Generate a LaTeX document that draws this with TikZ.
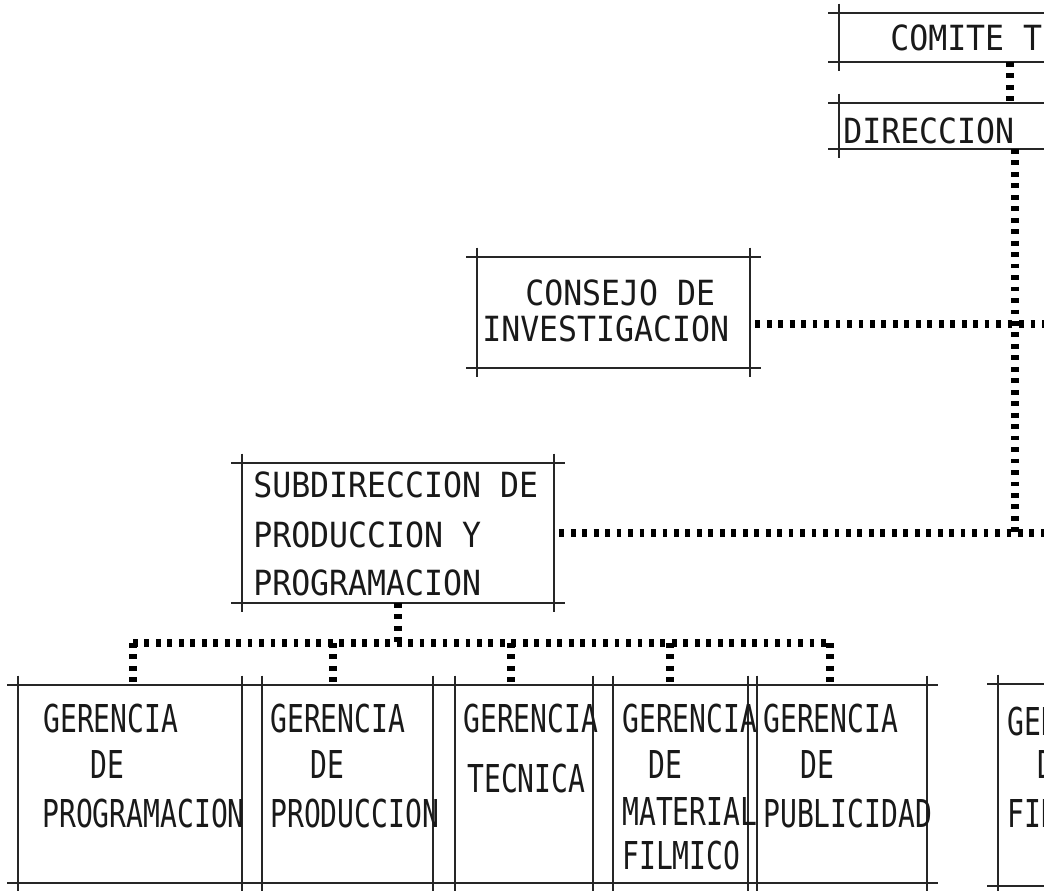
\documentclass[tikz,border=0pt]{standalone}
\usepackage{fontspec}
\newfontfamily\topfont[FakeStretch=0.91]{DejaVu Sans Mono}
\newfontfamily\lowfont[FakeStretch=0.73]{DejaVu Sans Mono}
\newcommand\mkbox[5]{%
  \node[boxnode, minimum width={(#4-#2)*0.75pt}, minimum height={(#5-#3)*0.75pt}] (#1) at ({(#2+#4)/2},{(#3+#5)/2}) {};
  \draw[frameline] ([xshift=-8pt]#1.north west) -- ([xshift=8pt]#1.north east);
  \draw[frameline] ([xshift=-8pt]#1.south west) -- ([xshift=8pt]#1.south east);
  \draw[frameline] ([yshift=7pt]#1.north west) -- ([yshift=-7pt]#1.south west);
  \draw[frameline] ([yshift=7pt]#1.north east) -- ([yshift=-7pt]#1.south east);
}
\newcommand\tl[5]{\node[#1] (#2) at (#3,#4) {#5};}
\begin{document}
\begin{tikzpicture}[x=0.75pt,y=-0.75pt,
  frameline/.style={line width=0.8pt, black!85},
  dots/.style={line width=5.5pt, dash pattern=on 3.6pt off 5pt, black},
  boxnode/.style={draw=none, inner sep=0pt, outer sep=0pt, rectangle},
  toptxt/.style={font=\topfont\fontsize{26}{26}\selectfont, inner sep=0pt, anchor=base west, text=black!90},
  lowtxt/.style={font=\lowfont\fontsize{28.8}{29}\selectfont, inner sep=0pt, anchor=base west, text=black!90}]
\useasboundingbox (0,0) rectangle (1044,890);
\clip (0,0) rectangle (1044,890);
\fill[white] (0,0) rectangle (1044,890);
% boxes
\mkbox{comite}{839}{13}{1150}{62}
\mkbox{direccion}{839}{103}{1150}{149}
\mkbox{consejo}{477}{257}{750}{368}
\mkbox{sub}{242}{463}{554}{603}
\mkbox{g1}{18}{685}{242}{883}
\mkbox{g2}{262}{685}{433}{883}
\mkbox{g3}{455}{685}{593}{883}
\mkbox{g4}{613}{685}{748}{883}
\mkbox{g5}{757}{685}{927}{883}
\mkbox{g6}{998}{684}{1150}{886}
% texts
\tl{toptxt}{tcom}{890}{50}{COMITE T}
\tl{toptxt}{tdir}{843}{143}{DIRECCION}
\tl{toptxt}{tcon1}{525}{305}{CONSEJO DE}
\tl{toptxt}{tcon2}{482}{341}{INVESTIGACION}
\tl{toptxt}{tsub1}{253}{497}{SUBDIRECCION DE}
\tl{toptxt}{tsub2}{253}{547}{PRODUCCION Y}
\tl{toptxt}{tsub3}{253}{595}{PROGRAMACION}
\tl{lowtxt}{ta1}{43}{732}{GERENCIA}
\tl{lowtxt}{ta2}{90}{778}{DE}
\tl{lowtxt}{ta3}{42}{827}{PROGRAMACION}
\tl{lowtxt}{tb1}{270}{732}{GERENCIA}
\tl{lowtxt}{tb2}{310}{778}{DE}
\tl{lowtxt}{tb3}{270}{827}{PRODUCCION}
\tl{lowtxt}{tc1}{463}{732}{GERENCIA}
\tl{lowtxt}{tc2}{467}{792}{TECNICA}
\tl{lowtxt}{td1}{622}{732}{GERENCIA}
\tl{lowtxt}{td2}{648}{778}{DE}
\tl{lowtxt}{td3}{622}{825}{MATERIAL}
\tl{lowtxt}{td4}{622}{869}{FILMICO}
\tl{lowtxt}{te1}{763}{732}{GERENCIA}
\tl{lowtxt}{te2}{800}{778}{DE}
\tl{lowtxt}{te3}{763}{827}{PUBLICIDAD}
\tl{lowtxt}{tf1}{1007}{735}{GER}
\tl{lowtxt}{tf2}{1037}{778}{D}
\tl{lowtxt}{tf3}{1007}{827}{FIN}
% helper coordinates
\coordinate (cd) at (1010,0);
\coordinate (spine) at (1015,0);
\coordinate (cons) at (0,324);
\coordinate (edge) at (1060,0);
\coordinate (bus) at (0,643);
\coordinate (d1) at (133,643);
\coordinate (d2) at (333,643);
\coordinate (d3) at (511,643);
\coordinate (d4) at (670,643);
\coordinate (d5) at (830,643);
% connectors
\draw[dots] (cd |- comite.south) -- (cd |- direccion.north);
\draw[dots] (spine |- direccion.south) -- (spine |- sub.east);
\draw[dots, shorten <=4pt] (consejo.east |- cons) -- (edge |- cons);
\draw[dots, shorten <=4pt] (sub.east) -- (edge |- sub.east);
\draw[dots] (sub.south) -- (sub.south |- bus);
\draw[dots] (d1) -- (d5);
\foreach \i in {1,...,5} {\draw[dots] (d\i) -- (d\i |- g\i.north);}
\end{tikzpicture}
\end{document}
